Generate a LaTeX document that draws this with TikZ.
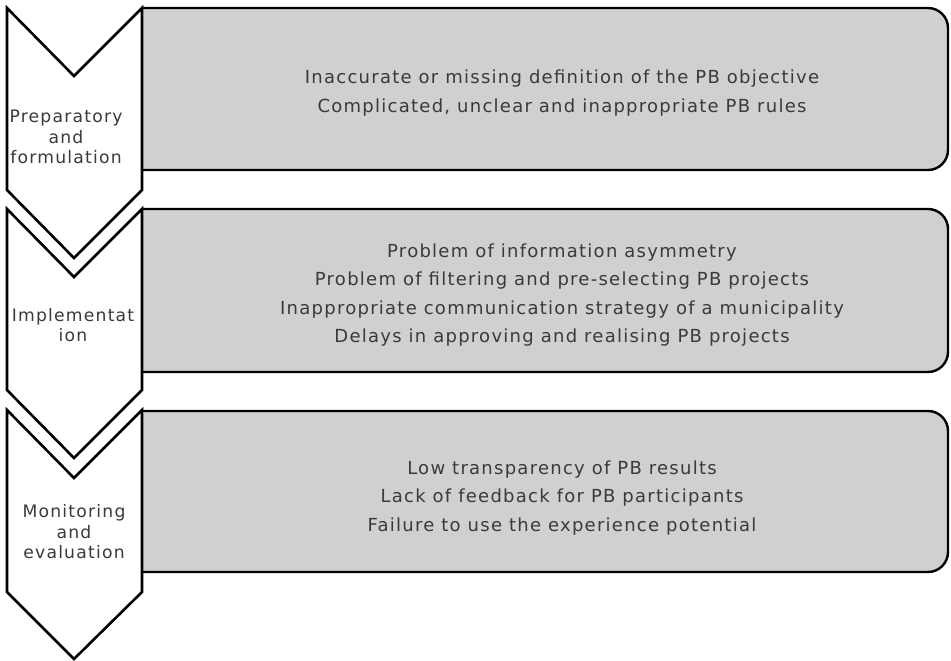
\documentclass[tikz,border=0pt]{standalone}
\usepackage{fontspec}
\setmainfont{DejaVu Sans}[LetterSpace=7]
\definecolor{boxfill}{HTML}{D0D0D0}
\definecolor{txt}{HTML}{3A3A3A}
\begin{document}
\begin{tikzpicture}[x=1pt,y=-1pt,
  chev/.style={draw=black, fill=white, line width=2.6pt, line join=miter},
  panel/.style={draw=black, fill=boxfill, line width=2.4pt, rounded corners=20pt},
  boxtext/.style={align=center, text=txt, font=\fontsize{18}{28.2}\selectfont, inner sep=0pt},
  labtext/.style={align=center, text=txt, font=\fontsize{17.2}{20.5}\selectfont, inner sep=0pt}]
\useasboundingbox (0,0) rectangle (951,661);
% panels
\begin{scope}
  \clip (142,0) rectangle (951,661);
  \path[panel] (110,8) rectangle (948,170);
  \path[panel] (110,209) rectangle (948,372);
  \path[panel] (110,411) rectangle (948,572);
\end{scope}
% chevrons
\path[chev] (7,8) -- (74,76) -- (142,8) -- (142,190) -- (74,258) -- (7,190) -- cycle;
\path[chev] (7,209) -- (74,277) -- (142,209) -- (142,390) -- (74,458) -- (7,390) -- cycle;
\path[chev] (7,410) -- (74,478) -- (142,410) -- (142,592) -- (74,659) -- (7,592) -- cycle;
% texts
\node[boxtext] (t1) at (562,93) {Inaccurate or missing definition of the PB objective\\Complicated, unclear and inappropriate PB rules};
\node[boxtext] (t2) at (562,295) {Problem of information asymmetry\\Problem of filtering and pre-selecting PB projects\\Inappropriate communication strategy of a municipality\\Delays in approving and realising PB projects};
\node[boxtext] (t3) at (562,498) {Low transparency of PB results\\Lack of feedback for PB participants\\Failure to use the experience potential};
\node[labtext] (l1) at (66,137) {Preparatory\\and\\formulation};
\node[labtext] (l2) at (73,325) {Implementat\\ion};
\node[labtext] (l3) at (74,532) {Monitoring\\and\\evaluation};
\end{tikzpicture}
\end{document}
